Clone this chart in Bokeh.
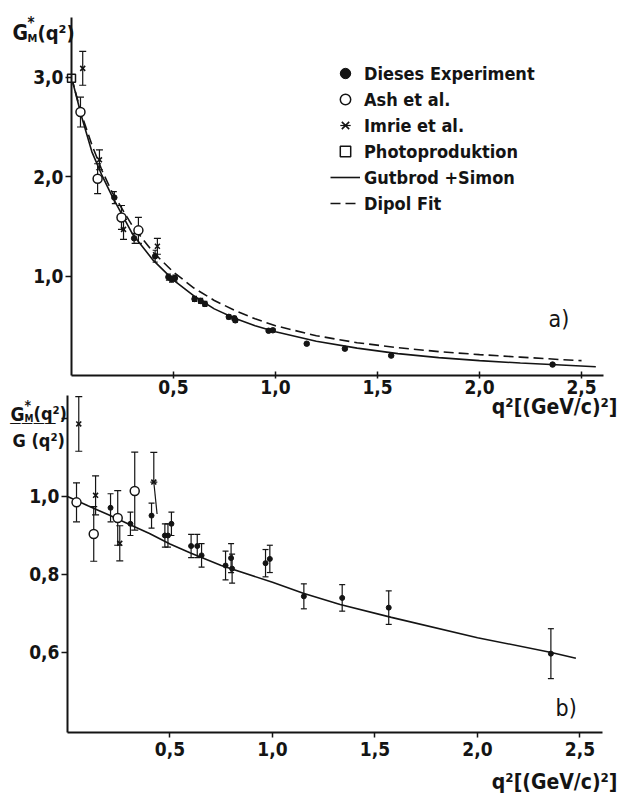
import math
from bokeh.plotting import figure
from bokeh.models import (ColumnDataSource, Whisker, TeeHead, FixedTicker, Label,
                          Legend, LegendItem, Range1d, CustomJSTickFormatter, LinearAxis)
from bokeh.embed import file_html
from bokeh.resources import INLINE

# ---------------- data ----------------
# "Dieses Experiment"
d_q2 = [0.21, 0.307, 0.41, 0.475, 0.49, 0.507, 0.603, 0.633, 0.654, 0.771, 0.798, 0.803,
        0.966, 0.987, 1.153, 1.34, 1.567, 2.358]
d_gm = [1.79, 1.38, 1.20, 0.99, 0.97, 0.98, 0.77, 0.75, 0.72, 0.59, 0.575, 0.555,
        0.45, 0.455, 0.32, 0.27, 0.20, 0.11]
d_gm_err = [0.06, 0.05, 0.06, 0.03, 0.03, 0.03, 0.025, 0.025, 0.025, 0.02, 0.02, 0.02,
            0.015, 0.015, 0.012, 0.01, 0.01, 0.01]
d_ratio = [0.971, 0.93, 0.951, 0.90, 0.90, 0.93, 0.873, 0.873, 0.849, 0.823, 0.842, 0.815,
           0.829, 0.84, 0.744, 0.74, 0.715, 0.597]
d_ratio_err = [0.036, 0.03, 0.032, 0.03, 0.03, 0.03, 0.03, 0.03, 0.03, 0.037, 0.037, 0.037,
               0.035, 0.035, 0.032, 0.034, 0.043, 0.064]

# "Ash et al."
a_q2 = [0.044, 0.128, 0.245, 0.328]
a_gm = [2.65, 1.98, 1.59, 1.46]
a_gm_err = [0.15, 0.15, 0.12, 0.13]
a_ratio = [0.985, 0.904, 0.945, 1.014]
a_ratio_err = [0.05, 0.07, 0.07, 0.10]

# "Imrie et al."
i_q2 = [0.055, 0.137, 0.255, 0.421]
i_gm = [3.09, 2.17, 1.47, 1.30]
i_gm_err = [0.17, 0.10, 0.10, 0.08]
i_ratio = [1.186, 1.003, 0.88, 1.037]
i_ratio_up = [0.07, 0.05, 0.045, 0.076]
i_ratio_dn = [0.07, 0.05, 0.045, 0.0]
# slanted lower error bar of the last Imrie point (b)
i_slant_q2 = [0.421, 0.437]
i_slant_ratio = [1.037, 0.955]

# "Photoproduktion"
p_q2 = [0.0]
p_gm = [2.99]
p_gm_err = [0.03]

# curves (a)
fit_q2 = [0.0, 0.05, 0.1, 0.15, 0.2, 0.3, 0.4, 0.5, 0.6, 0.7, 0.8, 0.9, 1.0, 1.2, 1.4,
          1.6, 1.8, 2.0, 2.2, 2.4, 2.57]
gs_gm = [3.0, 2.6, 2.25, 2.01, 1.8, 1.42, 1.16, 0.96, 0.80, 0.67, 0.575, 0.50, 0.44, 0.345,
         0.275, 0.22, 0.18, 0.15, 0.125, 0.105, 0.088]
dip_q2 = [0.0, 0.05, 0.1, 0.15, 0.2, 0.3, 0.4, 0.5, 0.6, 0.7, 0.8, 0.9, 1.0, 1.2, 1.4,
          1.6, 1.8, 2.0, 2.2, 2.4, 2.5]
dip_gm = [3.0, 2.62, 2.32, 2.06, 1.84, 1.50, 1.24, 1.04, 0.88, 0.755, 0.655, 0.57, 0.50,
          0.40, 0.33, 0.28, 0.24, 0.21, 0.185, 0.16, 0.15]
# curve (b)
gs_ratio_q2 = [0.0, 0.1, 0.2, 0.3, 0.4, 0.5, 0.6, 0.75, 1.0, 1.15, 1.33, 1.58, 2.0, 2.36, 2.48]
gs_ratio = [1.0, 0.976, 0.953, 0.929, 0.905, 0.878, 0.855, 0.823, 0.78, 0.752, 0.723, 0.69,
            0.638, 0.60, 0.585]

x_ticks = [0.5, 1.0, 1.5, 2.0, 2.5]
top_y_ticks = [1.0, 2.0, 3.0]
bot_y_ticks = [0.6, 0.8, 1.0, 1.2]

legend_labels = ["Dieses Experiment", "Ash et al.", "Imrie et al.", "Photoproduktion",
                 "Gutbrod +Simon", "Dipol Fit"]
xlabel = "q\u00b2[(GeV/c)\u00b2]"

# ---------------- style ----------------
FONT = "'DejaVu Sans Condensed', 'Liberation Sans Narrow', sans-serif"
INK = "#141414"
FS = "18px"
W, H = 620, 795

fmt = CustomJSTickFormatter(code="return tick.toFixed(1).replace('.', ',')")
fmt_b = CustomJSTickFormatter(code="return tick > 1.1 ? '' : tick.toFixed(1).replace('.', ',')")

# One canvas holding both panels: panel a uses the default ranges, panel b the
# extra ranges "xb"/"yb".  The frame fills the whole canvas; each axis is drawn at
# its own fixed location and limited by its bounds.
p = figure(width=W, height=H, x_range=Range1d(-0.348, 2.691), y_range=Range1d(-4.2254, 3.7726),
           min_border_left=0, min_border_right=0, min_border_top=0, min_border_bottom=0,
           x_axis_location=None, y_axis_location=None,
           output_backend="svg", toolbar_location=None)
p.extra_x_ranges = {"xb": Range1d(-0.3268, 2.6976)}
p.extra_y_ranges = {"yb": Range1d(0.2333, 2.2718)}
p.grid.visible = False
p.outline_line_color = None
p.background_fill_color = "white"
p.border_fill_color = "white"


def axis(ticks, formatter, loc, bounds, tick_in, tick_out, standoff, **names):
    ax = LinearAxis(fixed_location=loc, bounds=bounds, ticker=FixedTicker(ticks=ticks),
                    formatter=formatter, **names)
    ax.axis_line_width = 2
    ax.axis_line_color = INK
    ax.major_tick_line_color = INK
    ax.major_tick_line_width = 1.5
    ax.minor_tick_line_color = None
    ax.major_tick_in = tick_in
    ax.major_tick_out = tick_out
    ax.major_label_standoff = standoff
    ax.major_label_text_font = FONT
    ax.major_label_text_font_size = "19px"
    ax.major_label_text_font_style = "bold"
    ax.major_label_text_color = INK
    return ax


p.add_layout(axis(x_ticks, fmt, 0, (0, 2.608), 4, 3, 2), "below")
p.add_layout(axis(top_y_ticks, fmt, 0, (0, 3.6), 0, 6, 2), "left")
p.add_layout(axis(x_ticks, fmt, 0.3949, (0, 2.61), 0, 5, 5,
                  x_range_name="xb", y_range_name="yb"), "below")
p.add_layout(axis(bot_y_ticks, fmt_b, 0, (0.3949, 1.259), 0, 6, 2,
                  x_range_name="xb", y_range_name="yb"), "left")


def errbars(xs, ys, up, dn, size=7, **names):
    src = ColumnDataSource(dict(x=xs, upper=[y + e for y, e in zip(ys, up)],
                                lower=[y - e for y, e in zip(ys, dn)]))
    w = Whisker(source=src, base="x", upper="upper", lower="lower", dimension="height",
                line_color=INK, line_width=1.2,
                upper_head=TeeHead(size=size, line_color=INK, line_width=1.2),
                lower_head=TeeHead(size=size, line_color=INK, line_width=1.2), **names)
    p.add_layout(w)


def lab(x, y, text, size=FS, align="left", style_="bold"):
    # screen units: pixels from the canvas' bottom-left corner
    p.add_layout(Label(x=x, y=y, x_units="screen", y_units="screen", text=text,
                       text_font=FONT, text_font_size=size, text_font_style=style_,
                       text_color=INK, text_align=align, text_baseline="middle"))


# ---------------- panel a ----------------
r_gs = p.line(fit_q2, gs_gm, line_color=INK, line_width=1.6)
r_dip = p.line(dip_q2, dip_gm, line_color=INK, line_width=1.6, line_dash="10 5")

errbars(d_q2, d_gm, d_gm_err, d_gm_err, size=5)
errbars(a_q2, a_gm, a_gm_err, a_gm_err)
errbars(i_q2, i_gm, i_gm_err, i_gm_err)
errbars(p_q2, p_gm, p_gm_err, p_gm_err)

r_d = p.scatter(d_q2, d_gm, marker="circle", size=5.5, fill_color=INK, line_color=INK)
r_a = p.scatter(a_q2, a_gm, marker="circle", size=9, fill_color="white",
                line_color=INK, line_width=1.5)
r_i = p.scatter(i_q2, i_gm, marker="x", size=7, line_color=INK, line_width=1.6)
r_p = p.scatter(p_q2, p_gm, marker="square", size=8, fill_color="white",
                line_color=INK, line_width=1.5)
# legend-only stand-in for the vertical error bar (placed off the canvas)
bar = p.scatter(x=[-10.0], y=[-10.0], marker="dash", angle=math.pi / 2, size=20,
                line_color=INK, line_width=1.2)

legend = Legend(items=[LegendItem(label=legend_labels[0], renderers=[bar, r_d]),
                       LegendItem(label=legend_labels[1], renderers=[bar, r_a]),
                       LegendItem(label=legend_labels[2], renderers=[bar, r_i]),
                       LegendItem(label=legend_labels[3], renderers=[bar, r_p]),
                       LegendItem(label=legend_labels[4], renderers=[r_gs]),
                       LegendItem(label=legend_labels[5], renderers=[r_dip])],
                location=(330, 579), background_fill_alpha=0, border_line_alpha=0,
                padding=0, margin=0, spacing=0, glyph_width=30, glyph_height=26,
                label_height=26, label_standoff=4, label_text_font=FONT,
                label_text_font_size=FS, label_text_font_style="bold",
                label_text_color=INK)
p.add_layout(legend)

# y-axis title of panel a:  G*_M(q^2)
lab(12, 763, "G", size="21px")
lab(27, 773, "*", size="15px")
lab(27, 757, "M", size="11px")
lab(37, 763, "(q\u00b2)", size="20px")
lab(548, 477, "a)", size="23px", style_="normal")

# x-axis title of panel a
lab(617, 389, xlabel, size="21px", align="right")

# ---------------- panel b ----------------
nb = dict(x_range_name="xb", y_range_name="yb")
p.line(gs_ratio_q2, gs_ratio, line_color=INK, line_width=1.6, **nb)
errbars(d_q2, d_ratio, d_ratio_err, d_ratio_err, size=6, **nb)
errbars(a_q2, a_ratio, a_ratio_err, a_ratio_err, **nb)
errbars(i_q2, i_ratio, i_ratio_up, i_ratio_dn, **nb)
p.line(i_slant_q2, i_slant_ratio, line_color=INK, line_width=1.2, **nb)
p.scatter(d_q2, d_ratio, marker="circle", size=5, fill_color=INK, line_color=INK, **nb)
p.scatter(a_q2, a_ratio, marker="circle", size=9, fill_color="white",
          line_color=INK, line_width=1.5, **nb)
p.scatter(i_q2, i_ratio, marker="x", size=7, line_color=INK, line_width=1.6, **nb)

# y-axis title of panel b as a fraction  G*_M(q^2) / G(q^2)
lab(10, 382, "G", size="19px")
lab(24, 391, "*", size="14px")
lab(24, 377, "M", size="10px")
lab(33, 382, "(q\u00b2)", size="18px")
lab(9, 373, "\u2014\u2014\u2014\u2014", size="13px", style_="normal")
lab(12, 355, "G (q\u00b2)", size="18px")
lab(555, 88, "b)", size="23px", style_="normal")

# x-axis title of panel b
lab(617, 14, xlabel, size="21px", align="right")

open("out.html", "w").write(file_html(p, INLINE))
